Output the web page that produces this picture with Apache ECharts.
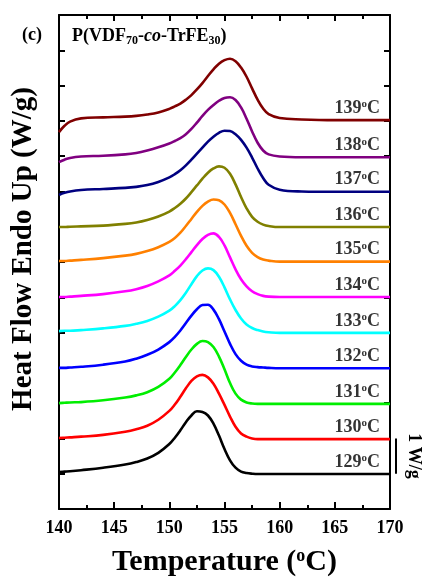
<!DOCTYPE html>
<html><head><meta charset="utf-8">
<script src="https://cdn.jsdelivr.net/npm/echarts@6/dist/echarts.min.js"></script>
<style>html,body{margin:0;padding:0;background:#fff}#c{width:422px;height:578px}</style>
</head><body><div id="c"></div>
<script>
// Temperatures (ºC) shared by all traces
const temps = [140,140.5,141,142,144,146,147,148,149,150,150.5,151,151.5,152,152.5,153,153.5,154,154.5,155,155.5,156,156.5,157,157.5,158,158.5,159,160,162,165,170];
// Heat flow traces (W/g, stacked with 1 W/g offsets), one per crystallization temperature
const hf129 = [1.05,1.06,1.07,1.10,1.17,1.26,1.33,1.43,1.59,1.84,2.02,2.23,2.46,2.65,2.77,2.75,2.65,2.42,2.08,1.70,1.38,1.17,1.06,1.02,1.00,0.99,0.99,0.99,0.99,0.99,0.99,0.99];
const hf130 = [2.01,2.02,2.03,2.05,2.10,2.19,2.26,2.36,2.53,2.78,2.96,3.18,3.42,3.63,3.76,3.80,3.73,3.55,3.27,2.95,2.62,2.33,2.14,2.05,2.00,1.98,1.98,1.98,1.98,1.98,1.98,1.98];
const hf131 = [3.00,3.01,3.02,3.03,3.08,3.16,3.22,3.31,3.46,3.69,3.87,4.08,4.31,4.52,4.68,4.76,4.73,4.59,4.32,3.96,3.57,3.27,3.10,3.02,2.99,2.98,2.98,2.98,2.98,2.98,2.98,2.98];
const hf132 = [4.00,4.00,4.01,4.03,4.09,4.18,4.26,4.37,4.52,4.73,4.88,5.06,5.27,5.48,5.66,5.78,5.79,5.65,5.38,5.03,4.68,4.39,4.20,4.09,4.04,4.02,4.01,4.00,3.99,3.99,3.99,3.99];
const hf133 = [5.04,5.05,5.05,5.07,5.12,5.19,5.25,5.33,5.45,5.62,5.75,5.92,6.13,6.37,6.60,6.76,6.82,6.77,6.58,6.28,5.94,5.64,5.40,5.23,5.13,5.07,5.03,5.01,4.99,4.99,4.99,4.99];
const hf134 = [6.01,6.01,6.02,6.04,6.09,6.17,6.23,6.32,6.45,6.62,6.75,6.90,7.08,7.28,7.48,7.65,7.77,7.81,7.71,7.47,7.13,6.79,6.51,6.31,6.17,6.09,6.04,6.02,6.01,6.01,6.01,6.01];
const hf135 = [7.03,7.03,7.04,7.06,7.11,7.18,7.23,7.31,7.42,7.57,7.68,7.83,8.02,8.22,8.42,8.59,8.71,8.77,8.75,8.63,8.39,8.07,7.74,7.46,7.26,7.14,7.07,7.04,7.01,7.01,7.01,7.01];
const hf136 = [7.99,7.99,8.00,8.01,8.03,8.08,8.12,8.19,8.29,8.43,8.53,8.65,8.80,8.98,9.17,9.36,9.53,9.65,9.71,9.67,9.50,9.20,8.84,8.52,8.28,8.14,8.06,8.02,7.99,7.99,7.99,7.99];
const hf137 = [8.90,8.96,9.00,9.04,9.07,9.10,9.13,9.18,9.27,9.40,9.49,9.60,9.74,9.90,10.07,10.24,10.41,10.55,10.66,10.72,10.71,10.62,10.46,10.24,9.96,9.65,9.38,9.19,9.05,9.00,8.99,8.99];
const hf138 = [9.83,9.90,9.95,9.99,10.01,10.05,10.09,10.16,10.25,10.36,10.43,10.51,10.62,10.77,10.95,11.14,11.31,11.45,11.57,11.65,11.67,11.59,11.38,11.06,10.70,10.38,10.16,10.05,9.99,9.97,9.97,9.97];
const hf139 = [10.68,10.86,10.98,11.07,11.10,11.12,11.14,11.18,11.24,11.34,11.41,11.49,11.60,11.73,11.89,12.07,12.27,12.46,12.62,12.72,12.76,12.69,12.51,12.25,11.92,11.60,11.35,11.19,11.08,11.04,11.02,11.02];
const traces = [hf129,hf130,hf131,hf132,hf133,hf134,hf135,hf136,hf137,hf138,hf139];
const traceTemps = ['129','130','131','132','133','134','135','136','137','138','139'];
const traceColors = ['#000000','#ff0000','#00ee00','#0000ff','#00ffff','#ff00ff','#ff8000','#808000','#000080','#800080','#800000'];
const xTickLabels = [140,145,150,155,160,165,170];

const FONT = '"Liberation Serif","Times New Roman",serif';
const chart = echarts.init(document.getElementById('c'), null, {renderer:'canvas'});

const series = traces.map((arr, k) => ({
  name: traceTemps[k] + 'ºC', type: 'line', showSymbol: false, smooth: 0.4,
  lineStyle: {width: 2.6, color: traceColors[k]}, itemStyle: {color: traceColors[k]},
  data: temps.map((t, i) => [t, arr[i]]), z: 3
}));
series.push({
  type: 'scatter', symbolSize: 0, silent: true, z: 5,
  data: traces.map((arr, k) => ({value: [169.1, arr[arr.length - 1] + 0.34], name: traceTemps[k]})),
  label: {show: true, position: [0, 0], align: 'right', verticalAlign: 'middle',
    formatter: p => '{n|' + p.name + '}{s|o}{n|C}',
    rich: {n: {fontFamily: FONT, fontWeight: 'bold', fontSize: 18, color: '#000', lineHeight: 18},
           s: {fontFamily: FONT, fontWeight: 'bold', fontSize: 11, color: '#000', lineHeight: 11, verticalAlign: 'top'}}}
});

const axisLine = {show: true, onZero: false, lineStyle: {color: '#000', width: 2}};
chart.setOption({
  animation: false,
  grid: {left: 59, right: 32, top: 15, bottom: 69},
  xAxis: [
    {type: 'value', min: 140, max: 170, interval: 5, position: 'bottom', axisLine,
     axisTick: {inside: true, length: 7, lineStyle: {width: 2, color: '#000'}},
     minorTick: {show: true, splitNumber: 2, length: 4, lineStyle: {width: 2, color: '#000'}},
     splitLine: {show: false}, minorSplitLine: {show: false},
     axisLabel: {margin: 10, showMinLabel: true, showMaxLabel: true, fontFamily: FONT, fontWeight: 'bold', fontSize: 18, color: '#000',
       formatter: v => xTickLabels.includes(v) ? String(v) : ''}},
    {type: 'value', min: 140, max: 170, interval: 5, position: 'top', axisLine,
     axisTick: {inside: true, length: 6, lineStyle: {width: 2, color: '#000'}},
     minorTick: {show: true, splitNumber: 2, length: 4, lineStyle: {width: 2, color: '#000'}},
     splitLine: {show: false}, axisLabel: {show: false}}
  ],
  yAxis: [
    {type: 'value', min: 0, max: 14, interval: 1, position: 'left', axisLine,
     axisTick: {inside: true, length: 6, lineStyle: {width: 2, color: '#000'}},
     splitLine: {show: false}, axisLabel: {show: false}},
    {type: 'value', min: 0, max: 14, interval: 1, position: 'right', axisLine,
     axisTick: {inside: true, length: 6, lineStyle: {width: 2, color: '#000'}},
     splitLine: {show: false}, axisLabel: {show: false}}
  ],
  series
});

const xr = chart.convertToPixel({xAxisIndex: 0}, 170);
const xl = chart.convertToPixel({xAxisIndex: 0}, 140);
const yb1 = chart.convertToPixel({yAxisIndex: 0}, 1);
const yb2 = chart.convertToPixel({yAxisIndex: 0}, 2);
chart.setOption({graphic: [
  {type: 'text', x: 22, y: 35, style: {text: '(c)', fontFamily: FONT, fontWeight: 'bold', fontSize: 18, fill: '#000', align: 'left', verticalAlign: 'middle'}},
  {type: 'text', x: 72, y: 36, style: {text: '{n|P(VDF}{b|70}{n|-}{i|co}{n|-TrFE}{b|30}{n|)}', align: 'left', verticalAlign: 'middle',
    rich: {n: {fontFamily: FONT, fontWeight: 'bold', fontSize: 18, fill: '#000', lineHeight: 22, verticalAlign: 'middle'},
           i: {fontFamily: FONT, fontWeight: 'bold', fontStyle: 'italic', fontSize: 18, fill: '#000', lineHeight: 22, verticalAlign: 'middle'},
           b: {fontFamily: FONT, fontWeight: 'bold', fontSize: 12, fill: '#000', lineHeight: 12, verticalAlign: 'bottom'}}}},
  {type: 'text', x: 24, y: 249, rotation: Math.PI / 2, style: {text: 'Heat Flow Endo Up (W/g)', fontFamily: FONT, fontWeight: 'bold', fontSize: 29, fill: '#000', align: 'center', verticalAlign: 'middle'}},
  {type: 'text', x: (xl + xr) / 2, y: 562, style: {text: '{n|Temperature (}{s|o}{n|C)}', align: 'center', verticalAlign: 'middle',
    rich: {n: {fontFamily: FONT, fontWeight: 'bold', fontSize: 30, fill: '#000', lineHeight: 30},
           s: {fontFamily: FONT, fontWeight: 'bold', fontSize: 18, fill: '#000', lineHeight: 18, verticalAlign: 'top'}}}},
  {type: 'line', shape: {x1: xr + 6, y1: yb1, x2: xr + 6, y2: yb2}, style: {stroke: '#000', lineWidth: 2}},
  {type: 'text', x: 414, y: (yb1 + yb2) / 2, rotation: -Math.PI / 2, style: {text: '1 W/g', fontFamily: FONT, fontWeight: 'bold', fontSize: 18, fill: '#000', align: 'center', verticalAlign: 'middle'}}
]});
</script>
</body></html>
